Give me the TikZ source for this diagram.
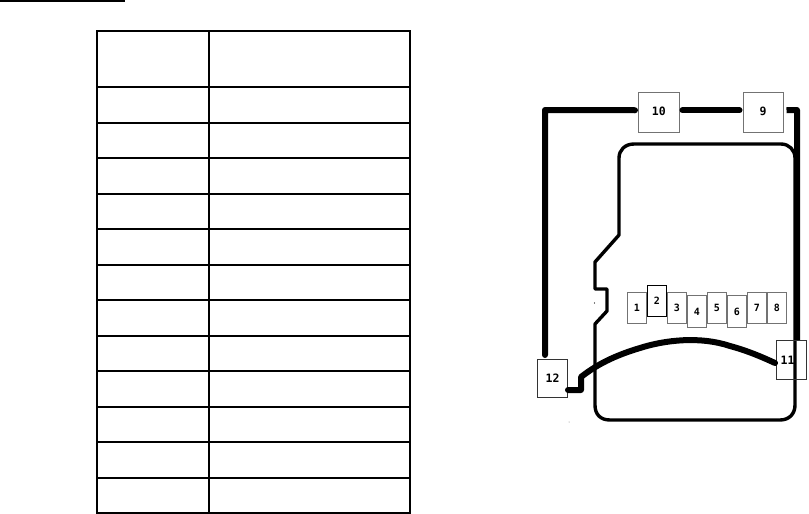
\documentclass[tikz,border=0pt]{standalone}
\usepackage{fontspec}
\setmainfont{DejaVu Sans Mono}
\definecolor{boxgray}{gray}{0.45}
\tikzset{
  lab/.style={font=\bfseries\fontsize{11.5}{12}\selectfont,text=black,inner sep=0pt},
  bigbox/.style={draw=boxgray,line width=1pt,fill=white,anchor=north west,minimum width=#1,inner sep=0pt},
  pinbox/.style={draw=boxgray,line width=1pt,fill=white,anchor=north west,minimum width=19pt,inner sep=0pt,font=\bfseries\fontsize{10}{10}\selectfont},
  wire/.style={line width=6pt,line cap=round,line join=round,black},
  gridline/.style={line width=2pt,black},
  outline/.style={line width=3.4pt,black,line join=round}
}
\begin{document}
\begin{tikzpicture}[x=1pt,y=-1pt]
\useasboundingbox (0,0) rectangle (809,514);
\fill[white] (0,0) rectangle (809,514);
% top rule
\draw[line width=2pt] (0,1) -- (125,1);
% table
\draw[gridline] (96.5,31) rectangle (410,513);
\draw[gridline] (209,31) -- (209,513);
\foreach \y in {87,123,158,194,229,265,300,336,371,407,442,478}
  \draw[gridline] (96.5,\y) -- (410,\y);
% card outline
\draw[outline] (634,144) -- (781,144)
  .. controls (789,144) and (795,150) .. (795,158)
  -- (795,405)
  .. controls (795,414) and (789,420) .. (780,420)
  -- (610,420)
  .. controls (600,420) and (595,414) .. (595,405)
  -- (595,324) -- (607,311) -- (607,289) -- (595,289) -- (595,262) -- (619,235)
  -- (619,158)
  .. controls (619,150) and (625,144) .. (634,144) -- cycle;
\fill (594.5,303) circle (0.7);
\fill[gray] (569,422) circle (0.5);
% nodes
\node[bigbox=40.5pt,minimum height=40.5pt,lab] (n10) at (638,91.5) {\raisebox{2pt}{10}\hspace{4pt}};
\node[bigbox=40pt,minimum height=40.5pt,lab] (n9) at (742.5,91.5) {\raisebox{2pt}{9}\hspace{1.5pt}};
\node[bigbox=30pt,minimum height=38pt,lab,draw=black!80] (n12) at (537,359) {12};
\coordinate (w10w) at ([xshift=-3pt,yshift=2pt]n10.west);
\coordinate (w10e) at ([xshift=3pt,yshift=2pt]n10.east);
\coordinate (w9w) at ([xshift=-3pt,yshift=2pt]n9.west);
\coordinate (w9e) at ([xshift=3pt,yshift=2pt]n9.east);
\coordinate (w12n) at (545,355);
\coordinate (w12a) at (567,390);
\coordinate (w12b) at (581,390);
\coordinate (w12c) at (581,377);
\draw[wire] (w10w) -- (545,110) -- (w12n);
\draw[wire] (w10e) -- (w9w);
\draw[wire,line cap=butt] (w9e) -- (797,110) -- (797,340);
\node[bigbox=30pt,minimum height=39pt,lab,draw=black!80,fill=none] (n11) at (776,340) {\hspace{-8pt}11};
\draw[wire] (n12.east |- w12a) -- (w12b) -- (w12c)
  .. controls (600,362) and (620,354) .. (640,348)
  .. controls (665,340) and (700,336) .. (730,346)
  .. controls (745,350) and (760,356) .. ([xshift=-1pt]n11.west |- 0,363);
% pins
\node[pinbox,minimum height=31pt] (p1) at (627,292) {1};
\node[pinbox,minimum height=31pt,draw=black] (p2) at (647,284.5) {2};
\node[pinbox,minimum height=31pt] (p3) at (667,292) {\raisebox{-1pt}{3}};
\node[pinbox,minimum height=32pt] (p4) at (687,295) {4};
\node[pinbox,minimum height=31pt] (p5) at (707,292) {\raisebox{-2.5pt}{5}};
\node[pinbox,minimum height=32pt] (p6) at (727,295) {6};
\node[pinbox,minimum height=31pt] (p7) at (747,292) {7};
\node[pinbox,minimum height=31pt] (p8) at (767,292) {8};
\end{tikzpicture}
\end{document}
